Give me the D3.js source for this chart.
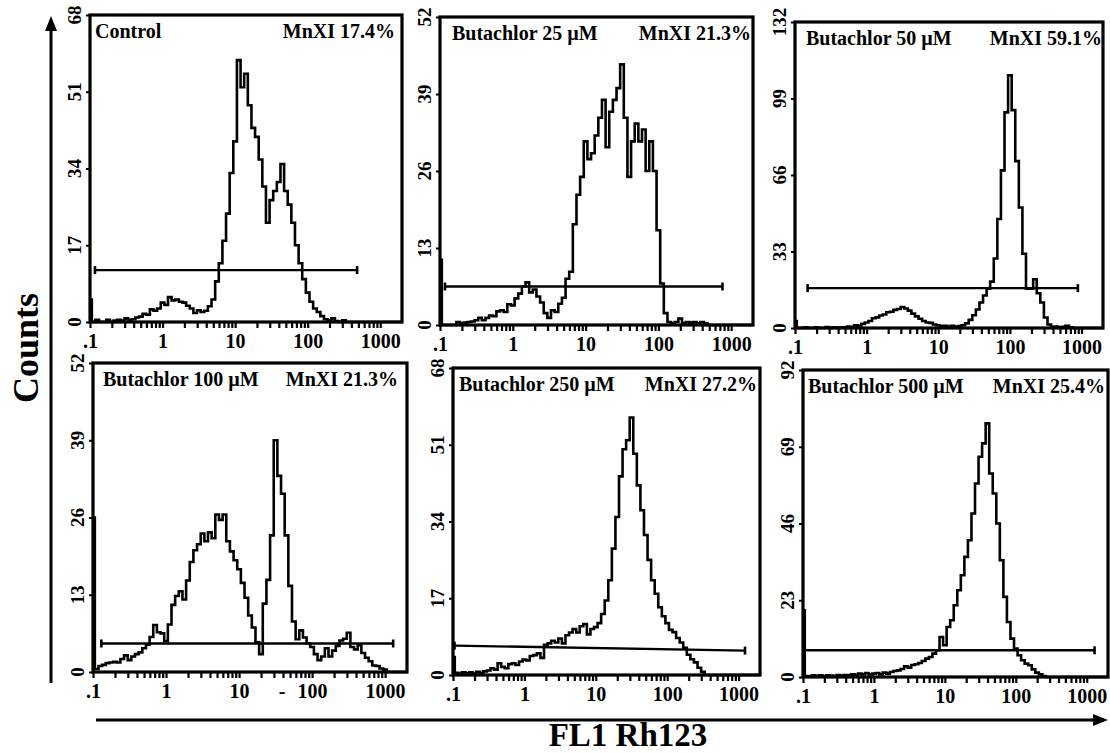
<!DOCTYPE html>
<html>
<head>
<meta charset="utf-8">
<script src="https://cdn.jsdelivr.net/npm/d3@7"></script>
<style>
  body { margin: 0; background: #fff; }
  text { font-family: "Liberation Serif", "Times New Roman", serif; font-weight: bold; fill: #000; }
</style>
</head>
<body>
<div id="chart"></div>
<script>
// panel names and marker stats
var titles = ["Control", "Butachlor 25 µM", "Butachlor 50 µM", "Butachlor 100 µM", "Butachlor 250 µM", "Butachlor 500 µM"];
var mnxi = ["MnXI 17.4%", "MnXI 21.3%", "MnXI 59.1%", "MnXI 21.3%", "MnXI 27.2%", "MnXI 25.4%"];

// y axis ranges / labels for each panel
var yMax = [68, 52, 132, 52, 68, 92];
var yTicks = [
  [0, 17, 34, 51, 68],
  [0, 13, 26, 39, 52],
  [0, 33, 66, 99, 132],
  [0, 13, 26, 39, 52],
  [0, 17, 34, 51, 68],
  [0, 23, 46, 69, 92]
];

// x axis (FL1, log) tick labels
var xMajor = [0.1, 1, 10, 100, 1000];
var xMajorLabels = [".1", "1", "10", "100", "1000"];
var xMaxFL = 1995;

// histogram channels: bin k sits at 10^(binStart + k*binStep)
var binStart = -1, binStep = 0.05;

var control = [5, 0, 0.5, 0, 0, 0.5, 0, 0.3, 0.5, 0.3,
  0.8, 0.5, 0.6, 1.0, 1.2, 1.8, 1.6, 2.8, 2.5, 3.0,
  4.3, 3.8, 5.5, 4.8, 5.0, 4.5, 4.3, 3.6, 3.0, 2.0,
  2.6, 2.2, 2.5, 3.5, 5.0, 9.0, 13, 18, 24, 33,
  40, 58, 52, 55, 48, 43, 41, 36, 30, 22,
  27, 29, 31, 35, 29, 26, 22, 17, 13, 9.5,
  6.5, 4.5, 3, 2.2, 1.3, 0.6, 0.3, 0.8, 0.2, 0,
  0.4, 0, 0, 0, 0, 0, 0, 0, 0, 0, 0, 0, 0, 0, 0, 0, 0];

var buta25 = [11, 0, 0, 0, 0, 0.5, 0.3, 0.4, 0.5, 0.6,
  0.8, 1.2, 0.8, 1.2, 1.6, 1.5, 2.3, 2.5, 2.2, 3.5,
  3.3, 4.5, 5.3, 6.5, 7.2, 5.5, 6.0, 4.8, 3.8, 2.0,
  1.2, 2.5, 2.2, 3.6, 4.6, 7.8, 9.0, 17, 22, 25,
  31, 28, 29, 32, 35, 38, 30, 36, 38, 40,
  44, 35, 25, 31, 34, 31, 33, 26, 31, 26,
  16, 7, 2, 0.5, 0.3, 0.5, 1.1, 0.3, 0.5, 0.4,
  0.5, 0.3, 0.5, 0.3, 0, 0, 0, 0, 0, 0, 0, 0, 0, 0, 0, 0, 0];

var buta50 = [3, 0, 0, 0.3, 0, 0, 0.3, 0, 0, 0.4,
  0, 0.3, 0, 0.3, 0.3, 0.6, 0.5, 1.2, 1.0, 1.8,
  2.4, 3.0, 4.2, 4.6, 5.4, 5.8, 6.8, 7.0, 7.8, 8.2,
  9.0, 8.4, 7.5, 6.2, 5.0, 4.0, 3.0, 2.4, 2.2, 1.5,
  1.2, 0.8, 1.0, 0.6, 1.0, 0.5, 0.8, 1.2, 2.0, 3.5,
  5.5, 8.0, 11, 14, 17, 20, 30, 47, 68, 93,
  109, 94, 72, 52, 32, 17, 17, 21, 15, 11,
  4.5, 1.5, 0.5, 0.6, 0.3, 0.5, 1.0, 0.3, 0, 0, 0, 0, 0, 0, 0, 0, 0];

var buta100 = [26, 0.5, 1.0, 1.2, 1.5, 1.6, 1.7, 1.6, 2.2, 2.8,
  2.0, 2.6, 3.0, 3.3, 4.0, 4.6, 5.9, 7.9, 6.7, 6.5,
  5.2, 8.0, 11.3, 12.8, 13.6, 12.2, 15.4, 18.5, 20.5, 21.5,
  23.3, 22, 23.5, 22.5, 26.5, 25.6, 26.5, 22, 20.3, 18.8,
  17.3, 15, 12.5, 9.5, 7.5, 5.0, 3.0, 11.5, 15.5, 23,
  39, 33, 30, 23, 14.5, 8.5, 5.5, 7.0, 5.8, 4.8,
  4.2, 3.0, 2.0, 2.6, 4.0, 2.6, 3.6, 4.4, 5.3, 5.6,
  6.6, 4.2, 3.8, 4.5, 3.2, 2.4, 1.8, 1.1, 1.0, 0.6,
  0.4, 0, 0, 0, 0, 0, 0];

var buta250 = [4, 0.5, 0.3, 0.6, 0.4, 0.6, 0.3, 0.7, 0.5, 0.8,
  1.0, 1.5, 1.2, 2.6, 1.8, 1.5, 2.4, 2.6, 2.2, 3.0,
  3.4, 3.2, 4.2, 4.4, 4.8, 3.8, 6.7, 7.0, 7.6, 7.2,
  8.1, 7.0, 8.8, 9.4, 10.2, 9.4, 10.8, 11.3, 9.0, 10.2,
  10.6, 11.5, 13.5, 16.5, 21, 28, 35, 44, 50, 52,
  57, 49, 42, 36.5, 31, 25.5, 21, 18, 15, 13,
  11.5, 10, 9.5, 8.2, 7.2, 6, 4.5, 3.5, 2.8, 1.6,
  0.7, 0, 0, 0, 0, 0, 0, 0, 0, 0, 0, 0, 0, 0, 0, 0, 0];

var buta500 = [20, 0.3, 0.2, 0.5, 0.3, 0.5, 0.2, 0.5, 0.4, 0.3,
  0.6, 0.4, 0.6, 0.5, 0.8, 0.6, 1.0, 0.8, 1.2, 0.8,
  1.0, 1.2, 0.8, 1.3, 1.0, 1.5, 1.8, 2.0, 2.4, 3.2,
  2.8, 3.6, 3.8, 4.2, 4.8, 5.5, 6.0, 7.0, 8.0, 12,
  9.5, 15, 17, 21.5, 26, 30.5, 36, 41, 49, 58,
  66, 70, 76, 61, 55, 46, 35, 24, 16.5, 11.5,
  8.5, 6.5, 5, 4, 3.5, 2.3, 1.3, 0.8, 0.3, 0,
  0, 0, 0, 0, 0, 0, 0, 0, 0, 0, 0, 0, 0, 0, 0, 0, 0];

var counts = [control, buta25, buta50, buta100, buta250, buta500];

// marker (gate) bars: FL1 start, FL1 end, level at start, level at end
var gateFrom = [0.117, 0.117, 0.15, 0.13, 0.105, 0.105];
var gateTo = [480, 760, 890, 1290, 1230, 1290];
var gateLevelA = [11.5, 6.5, 17.2, 4.8, 6.5, 8.0];
var gateLevelB = [11.5, 6.5, 17.2, 4.8, 5.4, 8.0];

// stray mark under the 100 µM axis
var strayFL = [null, null, null, 39, null, null];

// where each panel frame sits on the page
var layout = [
  {x: 90, y: 15, w: 312, h: 307, tdx: 5, rdx: 7},
  {x: 440, y: 17, w: 313, h: 308, tdx: 12, rdx: 2},
  {x: 795, y: 22, w: 308, h: 306, tdx: 11, rdx: 1},
  {x: 93, y: 363, w: 314, h: 309, tdx: 10, rdx: 9},
  {x: 453, y: 368, w: 307, h: 307, tdx: 6, rdx: 3},
  {x: 803, y: 370, w: 305, h: 307, tdx: 5, rdx: 3}
];

var svg = d3.select("#chart")
  .append("svg")
    .attr("width", 1110)
    .attr("height", 753);

// minor + major tick positions on the log axis
var xTickVals = [];
xMajor.forEach(function (m) {
  for (var j = 1; j < 10; j++) {
    if (m * j <= xMaxFL) xTickVals.push(m * j);
  }
});

counts.forEach(function (series, k) {
  var box = layout[k];
  var g = svg.append("g")
    .attr("transform", "translate(" + box.x + "," + box.y + ")");

  var x = d3.scaleLog().domain([0.1, xMaxFL]).range([0, box.w]);
  var y = d3.scaleLinear().domain([0, yMax[k]]).range([box.h, 0]);

  // bottom ticks (major labelled)
  var xa = g.append("g")
    .attr("transform", "translate(0," + box.h + ")")
    .call(d3.axisBottom(x)
      .tickValues(xTickVals)
      .tickSize(6)
      .tickPadding(6)
      .tickFormat(function (d) {
        var idx = xMajor.indexOf(d);
        return idx >= 0 ? xMajorLabels[idx] : "";
      }));
  xa.select(".domain").remove();
  xa.selectAll("line").attr("stroke", "#000").attr("stroke-width", 2.2);
  xa.selectAll("text")
    .style("font-size", "20px")
    .style("font-family", '"Liberation Serif", serif')
    .style("font-weight", "bold");

  if (strayFL[k]) {
    g.append("text")
      .attr("x", x(strayFL[k]))
      .attr("y", box.h + 26)
      .attr("text-anchor", "middle")
      .style("font-size", "20px")
      .text("-");
  }

  // left ticks + rotated labels
  var ya = g.append("g")
    .call(d3.axisLeft(y).tickValues(yTicks[k]).tickSize(4).tickFormat(""));
  ya.select(".domain").remove();
  ya.selectAll("line").attr("stroke", "#000").attr("stroke-width", 2);

  g.selectAll(".ylab")
    .data(yTicks[k])
    .enter()
    .append("text")
      .attr("class", "ylab")
      .attr("transform", function (d) { return "translate(-9," + y(d) + ") rotate(-90)"; })
      .attr("text-anchor", "middle")
      .style("font-size", "19px")
      .text(function (d) { return d; });

  // histogram
  var pts = series.map(function (c, i) {
    return [Math.pow(10, binStart + i * binStep), c];
  });
  var line = d3.line()
    .x(function (d) { return x(d[0]); })
    .y(function (d) { return y(d[1]); })
    .curve(d3.curveStep);
  g.append("path")
    .datum(pts)
    .attr("d", line)
    .attr("fill", "none")
    .attr("stroke", "#000")
    .attr("stroke-width", 2.6);

  // marker bar with end caps
  var gx1 = x(gateFrom[k]), gx2 = x(gateTo[k]);
  var gy1 = y(gateLevelA[k]), gy2 = y(gateLevelB[k]);
  g.append("line")
    .attr("x1", gx1).attr("y1", gy1).attr("x2", gx2).attr("y2", gy2)
    .attr("stroke", "#000").attr("stroke-width", 2.4);
  [[gx1, gy1], [gx2, gy2]].forEach(function (c) {
    g.append("line")
      .attr("x1", c[0]).attr("x2", c[0])
      .attr("y1", c[1] - 4).attr("y2", c[1] + 4)
      .attr("stroke", "#000").attr("stroke-width", 2.6);
  });

  // frame
  g.append("rect")
    .attr("width", box.w)
    .attr("height", box.h)
    .attr("fill", "none")
    .attr("stroke", "#000")
    .attr("stroke-width", 3.2);

  // titles
  g.append("text")
    .attr("x", box.tdx)
    .attr("y", 23)
    .style("font-size", "20px")
    .text(titles[k]);
  g.append("text")
    .attr("x", box.w - box.rdx)
    .attr("y", 23)
    .attr("text-anchor", "end")
    .style("font-size", "20px")
    .text(mnxi[k]);
});

// shared axis arrows and titles
svg.append("line")
  .attr("x1", 51).attr("x2", 51).attr("y1", 683).attr("y2", 28)
  .attr("stroke", "#000").attr("stroke-width", 3);
svg.append("path")
  .attr("d", "M51,16 L45,31 L57,31 Z")
  .attr("fill", "#000");

svg.append("line")
  .attr("x1", 96).attr("x2", 1096).attr("y1", 720).attr("y2", 720)
  .attr("stroke", "#000").attr("stroke-width", 3);
svg.append("path")
  .attr("d", "M1108,720 L1093,714 L1093,726 Z")
  .attr("fill", "#000");

svg.append("text")
  .attr("transform", "translate(38,348) rotate(-90)")
  .attr("text-anchor", "middle")
  .style("font-size", "36px")
  .text("Counts");

svg.append("text")
  .attr("x", 628)
  .attr("y", 746)
  .attr("text-anchor", "middle")
  .style("font-size", "33px")
  .text("FL1 Rh123");
</script>
</body>
</html>
